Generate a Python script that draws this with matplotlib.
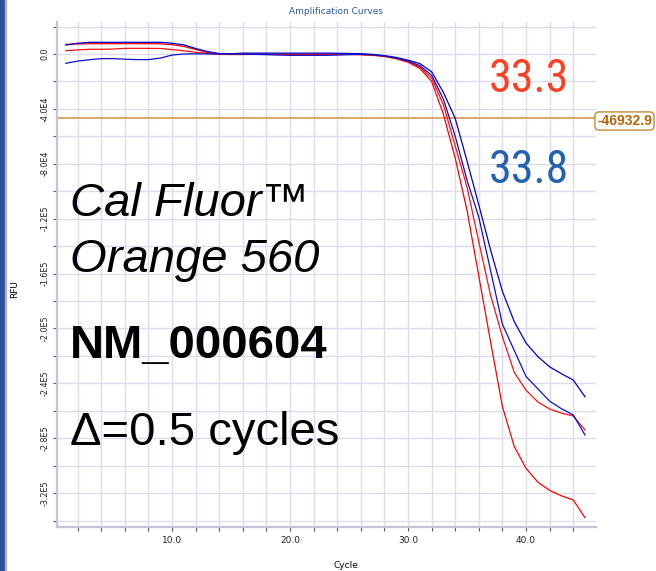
import matplotlib
matplotlib.use("Agg")
import matplotlib.pyplot as plt
from matplotlib import font_manager
from matplotlib.patches import Rectangle

W, H = 656, 571

cycles = list(range(1, 46))

# RFU values in thousands
red_a = [7.0, 7.3, 7.5, 7.5, 7.5, 7.5, 7.5, 7.5, 7.4, 6.8,
         5.5, 3.3, 1.0, 0.0, -0.2, -0.2, -0.2, -0.2, -0.2, -0.2,
         -0.2, -0.2, -0.2, -0.2, -0.3, -0.5, -1.0, -1.8, -3.5, -6.0,
         -10.5, -20, -44, -76, -114, -162, -210, -257, -286, -302,
         -312, -318, -322, -325, -338]
red_b = [2.4, 3.0, 3.4, 3.4, 3.6, 4.1, 4.1, 4.1, 4.0, 3.2,
         2.3, 1.2, 0.3, -0.3, -0.4, -0.4, -0.3, -0.3, -0.3, -0.3,
         -0.3, -0.3, -0.3, -0.3, -0.3, -0.4, -0.8, -1.6, -3.2, -5.6,
         -9.5, -17.5, -37, -67, -97, -137, -176, -206, -232, -245,
         -253.6, -258.7, -261.7, -263.8, -274]
blue_a = [6.5, 7.8, 8.5, 8.5, 8.5, 8.5, 8.5, 8.5, 8.5, 7.8,
          6.6, 4.0, 1.8, 0.3, 0.2, 0.6, 0.6, 0.6, 0.6, 0.6,
          0.6, 0.6, 0.6, 0.5, 0.4, 0.2, -0.3, -1.2, -2.5, -4.5,
          -7, -13, -28, -47, -78, -110, -143, -173, -195, -210.6,
          -220.5, -228, -233, -237.6, -249.8]
blue_b = [-6.8, -5.2, -4.2, -3.4, -3.4, -3.8, -4.1, -4.1, -3.0, -0.8,
          0.0, 0.1, 0.1, 0.0, 0.0, -0.2, -0.3, -0.5, -0.8, -1.0,
          -1.0, -1.0, -1.0, -0.8, -0.5, -0.3, -0.6, -1.5, -3.0, -5.2,
          -8.5, -15.5, -33, -60, -92, -119, -158, -197, -216, -235,
          -244, -253, -258.5, -263, -277.7]

threshold = -46932.9

x_major = [10, 20, 30, 40]
x_major_labels = ["10.0", "20.0", "30.0", "40.0"]
y_major = [-320000, -280000, -240000, -200000, -160000, -120000, -80000, -40000, 0]
y_major_labels = ["-3.2E5", "-2.8E5", "-2.4E5", "-2.0E5", "-1.6E5",
                  "-1.2E5", "-8.0E4", "-4.0E4", "0.0"]


def px(x, y):
    return x / W, 1 - y / H


def pick_narrow():
    # look for a condensed face for the Cq numbers
    pref = ["Liberation Sans Narrow", "Noto Sans", "Roboto", "Open Sans", "Lato", "DejaVu Sans"]
    best = None
    for f in font_manager.fontManager.ttflist:
        narrowish = ("Narrow" in f.name or "Condensed" in f.name
                     or f.stretch in ("condensed", "semi-condensed"))
        if not narrowish or f.style != "normal":
            continue
        w = f.weight if isinstance(f.weight, int) else 400
        if w > 400 or w < 300:
            continue
        rank = next((i for i, p in enumerate(pref) if f.name.startswith(p)), len(pref))
        key = (rank, 0 if f.stretch == "condensed" else 1, abs(w - 350))
        if best is None or key < best[0]:
            best = (key, f.fname)
    return best[1] if best else None


fig = plt.figure(figsize=(W / 100, H / 100), dpi=100)
ax = fig.add_axes([57 / W, 1 - 527 / H, (596 - 57) / W, (527 - 22) / H])

for vals, col in [(red_a, "#ff0000"), (red_b, "#ff1010"),
                  (blue_a, "#0000cc"), (blue_b, "#1010c8")]:
    ax.plot(cycles, [v * 1000 for v in vals], color=col, lw=0.9, zorder=3)

ax.axhline(threshold, color="#d6a060", lw=1.3, zorder=2)

ax.set_xlim(0.25, 45.93)
ax.set_ylim(-344700, 23300)

ax.set_xticks(x_major)
ax.set_xticklabels(x_major_labels)
ax.set_xticks([c for c in range(2, 46, 2) if c not in x_major], minor=True)
ax.set_yticks(y_major)
ax.set_yticklabels(y_major_labels)
ax.set_yticks([v for v in range(-340000, 20001, 20000) if v not in y_major], minor=True)

ax.grid(True, which="both", color="#dcdcf0", lw=1.0, zorder=0)
ax.set_axisbelow(True)

for s in ["top", "right"]:
    ax.spines[s].set_visible(False)
for s in ["left", "bottom"]:
    ax.spines[s].set_color("#c4c4d6")
    ax.spines[s].set_linewidth(1.6)

ax.tick_params(which="both", direction="out", length=3, width=0.8, color="#555555")
ax.tick_params(axis="x", labelsize=6.5, pad=3.5, labelcolor="#222222")
ax.tick_params(axis="y", labelsize=5.8, pad=2.5, labelrotation=90, labelcolor="#222222")
for t in ax.get_yticklabels():
    t.set_va("center")

# window chrome on the left
fig.patches.append(Rectangle((0, 0), 4 / W, 1, transform=fig.transFigure,
                             color="#2a52a0", zorder=0))
fig.patches.append(Rectangle((4.6 / W, 0), 1.6 / W, 1, transform=fig.transFigure,
                             color="#b4b4b4", zorder=0))

fig.text(*px(336, 12), "Amplification Curves", ha="center", va="center",
         fontsize=6.5, color="#2a5aa8")
fig.text(*px(15, 289), "RFU", rotation=90, ha="center", va="center", fontsize=6.5)
fig.text(*px(346, 566), "Cycle", ha="center", va="center", fontsize=6.5)

fig.text(*px(597, 121), "-46932.9", ha="left", va="center", fontsize=10,
         fontweight="bold", family="Liberation Sans", color="#b4650a",
         bbox=dict(boxstyle="round,pad=0.15,rounding_size=0.3",
                   fc="white", ec="#c8883a", lw=1.0))

big = ["Liberation Sans", "DejaVu Sans"]
fig.text(*px(70, 216), "Cal Fluor™", fontsize=34, style="italic", family=big, va="baseline")
fig.text(*px(70, 272), "Orange 560", fontsize=34, style="italic", family=big, va="baseline")
fig.text(*px(70, 358), "NM_000604", fontsize=34, fontweight="bold", family=big, va="baseline")
fig.text(*px(70, 445), "Δ=0.5 cycles", fontsize=34, family=big, va="baseline")

narrow_path = pick_narrow()
if narrow_path:
    cq_font = font_manager.FontProperties(fname=narrow_path, size=33)
else:
    cq_font = font_manager.FontProperties(family="Roboto", size=33)
fig.text(*px(489, 92), "33.3", fontproperties=cq_font, color="#ff4020", va="baseline")
fig.text(*px(489, 183), "33.8", fontproperties=cq_font, color="#2462b0", va="baseline")

fig.savefig("out.png", dpi=100)
